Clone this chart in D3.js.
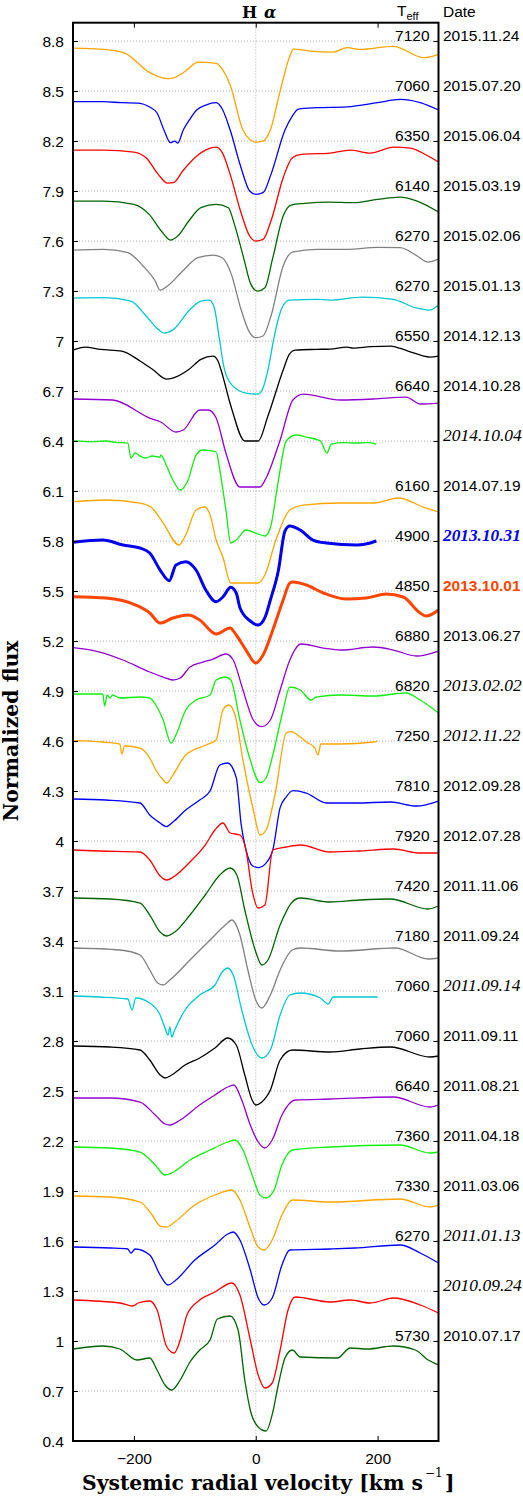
<!DOCTYPE html>
<html><head><meta charset="utf-8">
<script src="https://cdn.jsdelivr.net/npm/d3@7"></script>
<style>
body{margin:0;background:#fff;}
svg{display:block;}
</style></head>
<body>
<svg id="chart" width="523" height="1496"></svg>
<script>
// ---------- data ----------
const dates = ["2015.11.24","2015.07.20","2015.06.04","2015.03.19","2015.02.06","2015.01.13","2014.12.13","2014.10.28","2014.10.04","2014.07.19","2013.10.31","2013.10.01","2013.06.27","2013.02.02","2012.11.22","2012.09.28","2012.07.28","2011.11.06","2011.09.24","2011.09.14","2011.09.11","2011.08.21","2011.04.18","2011.03.06","2011.01.13","2010.09.24","2010.07.17"];
const teffs = [7120,7060,6350,6140,6270,6270,6550,6640,null,6160,4900,4850,6880,6820,7250,7810,7920,7420,7180,7060,7060,6640,7360,7330,6270,null,5730];
const labelLevels = [8.8,8.5,8.2,7.9,7.6,7.3,7.0,6.7,6.4,6.1,5.8,5.5,5.2,4.9,4.6,4.3,4.0,3.7,3.4,3.1,2.8,2.5,2.2,1.9,1.6,1.3,1.0];
const yTickValues = [0.4,0.7,1.0,1.3,1.6,1.9,2.2,2.5,2.8,3.1,3.4,3.7,4.0,4.3,4.6,4.9,5.2,5.5,5.8,6.1,6.4,6.7,7.0,7.3,7.6,7.9,8.2,8.5,8.8];
const xTickValues = [-200,0,200];

// profiles: [velocity km/s, normalized flux + offset]
const p20151124 = [[-300,8.758],[-248,8.75],[-215,8.728],[-174,8.61],[-145,8.574],[-138,8.576],[-115,8.62],[-95,8.674],[-65,8.666],[-54,8.626],[-42,8.536],[-21,8.266],[-10,8.21],[0,8.194],[12,8.20],[24,8.266],[40,8.5],[55,8.70],[62,8.752],[90,8.74],[127,8.734],[150,8.76],[171,8.75],[226,8.768],[276,8.70],[300,8.72]];
const p20150720 = [[-300,8.436],[-250,8.436],[-220,8.43],[-195,8.428],[-174,8.404],[-162,8.368],[-150,8.26],[-140,8.19],[-133,8.20],[-128,8.188],[-119,8.266],[-108,8.332],[-97,8.386],[-82,8.416],[-65,8.43],[-55,8.392],[-42,8.266],[-25,8.05],[-10,7.90],[0,7.88],[12,7.89],[25,8.0],[48,8.266],[60,8.35],[70,8.392],[100,8.40],[150,8.405],[200,8.43],[237,8.45],[270,8.43],[300,8.386]];
const p20150604 = [[-300,8.146],[-250,8.146],[-200,8.134],[-180,8.10],[-160,8.0],[-145,7.948],[-135,7.95],[-120,8.02],[-100,8.10],[-80,8.15],[-65,8.164],[-55,8.13],[-42,8.0],[-25,7.78],[-10,7.63],[0,7.60],[12,7.61],[25,7.72],[45,7.98],[60,8.10],[75,8.12],[122,8.128],[155,8.146],[188,8.128],[226,8.164],[254,8.158],[280,8.116],[300,8.074]];
const p20150319 = [[-300,7.84],[-250,7.84],[-200,7.82],[-175,7.76],[-155,7.66],[-140,7.606],[-128,7.63],[-110,7.72],[-90,7.80],[-65,7.82],[-45,7.80],[-35,7.70],[-20,7.50],[-8,7.34],[3,7.30],[15,7.32],[28,7.50],[45,7.75],[58,7.816],[80,7.826],[122,7.834],[160,7.83],[200,7.85],[237,7.864],[265,7.84],[300,7.774]];
const p20150206 = [[-300,7.546],[-250,7.55],[-210,7.53],[-185,7.45],[-165,7.36],[-157,7.306],[-145,7.33],[-120,7.42],[-95,7.50],[-70,7.516],[-55,7.50],[-40,7.40],[-25,7.20],[-10,7.05],[0,7.02],[12,7.03],[25,7.15],[45,7.45],[60,7.534],[100,7.55],[150,7.55],[200,7.562],[237,7.56],[265,7.51],[282,7.474],[300,7.492]];
const p20150113 = [[-300,7.258],[-250,7.26],[-205,7.24],[-180,7.15],[-160,7.07],[-150,7.048],[-135,7.07],[-110,7.18],[-90,7.24],[-76,7.246],[-68,7.20],[-60,7.02],[-52,6.84],[-40,6.74],[-16,6.688],[4,6.682],[12,6.72],[20,6.826],[30,7.02],[42,7.19],[55,7.246],[100,7.25],[122,7.246],[175,7.264],[226,7.25],[262,7.20],[286,7.186],[300,7.216]];
const p20141213 = [[-300,6.946],[-280,6.964],[-255,6.95],[-220,6.94],[-190,6.88],[-168,6.826],[-147,6.772],[-136,6.778],[-111,6.826],[-90,6.89],[-70,6.91],[-62,6.88],[-57,6.826],[-40,6.60],[-18,6.40],[4,6.40],[20,6.55],[45,6.826],[55,6.92],[65,6.946],[100,6.95],[122,6.952],[150,6.964],[160,6.958],[188,6.966],[221,6.97],[250,6.94],[286,6.904],[300,6.91]];
const p20141028 = [[-300,6.652],[-235,6.646],[-174,6.538],[-156,6.514],[-131,6.454],[-119,6.466],[-92,6.586],[-78,6.586],[-65,6.538],[-49,6.328],[-26,6.124],[7,6.124],[17,6.178],[40,6.406],[61,6.646],[78,6.682],[139,6.646],[193,6.652],[247,6.664],[270,6.622],[300,6.628]];
const p20141004 = [[-300,6.402],[-270,6.395],[-246,6.40],[-230,6.392],[-210,6.388],[-205,6.298],[-198,6.328],[-190,6.31],[-180,6.298],[-170,6.31],[-157,6.304],[-156,6.316],[-147,6.256],[-136,6.166],[-124,6.106],[-111,6.166],[-98,6.316],[-87,6.346],[-75,6.342],[-65,6.334],[-59,6.226],[-49,5.986],[-41,5.788],[-32,5.806],[-16,5.866],[0,5.848],[15,5.83],[24,5.88],[37,6.16],[50,6.40],[66,6.436],[83,6.424],[106,6.40],[117,6.328],[124,6.382],[145,6.39],[165,6.388],[185,6.39],[198,6.382]];
const p20140719 = [[-300,6.036],[-246,6.046],[-190,6.028],[-172,6.004],[-152,5.908],[-126,5.776],[-115,5.836],[-98,5.986],[-83,6.004],[-75,5.956],[-65,5.806],[-54,5.704],[-41,5.548],[4,5.548],[15,5.596],[33,5.806],[56,5.986],[78,6.016],[139,6.028],[193,6.028],[234,6.058],[275,6.004],[300,5.974]];
const p20131031 = [[-300,5.792],[-251,5.806],[-218,5.776],[-190,5.758],[-174,5.728],[-157,5.626],[-142,5.562],[-131,5.656],[-115,5.676],[-98,5.626],[-82,5.506],[-65,5.436],[-54,5.464],[-41,5.522],[-32,5.488],[-26,5.40],[-9,5.32],[4,5.296],[15,5.34],[24,5.446],[37,5.62],[48,5.86],[56,5.89],[73,5.866],[94,5.806],[116,5.788],[165,5.776],[181,5.782],[198,5.80]];
const p20131001 = [[-300,5.466],[-246,5.458],[-197,5.416],[-174,5.368],[-157,5.308],[-136,5.338],[-111,5.356],[-92,5.326],[-65,5.242],[-42,5.278],[-32,5.236],[-16,5.146],[0,5.068],[12,5.116],[28,5.266],[45,5.446],[56,5.548],[61,5.554],[83,5.536],[111,5.488],[148,5.452],[181,5.458],[214,5.482],[242,5.464],[270,5.368],[280,5.35],[300,5.386]];
const p20130627 = [[-300,5.16],[-256,5.134],[-218,5.086],[-174,5.014],[-152,4.984],[-136,4.966],[-124,4.978],[-108,5.044],[-87,5.074],[-70,5.092],[-49,5.122],[-37,5.086],[-21,4.906],[-4,4.726],[10,4.686],[24,4.726],[40,4.906],[56,5.086],[74,5.182],[111,5.158],[139,5.146],[193,5.164],[226,5.146],[264,5.11],[300,5.14]];
const p20130202 = [[-300,4.882],[-251,4.882],[-248,4.81],[-244,4.876],[-239,4.858],[-235,4.876],[-223,4.858],[-190,4.864],[-174,4.858],[-164,4.816],[-152,4.726],[-139,4.588],[-131,4.636],[-115,4.786],[-98,4.846],[-75,4.876],[-65,4.966],[-50,4.984],[-41,4.966],[-26,4.726],[-9,4.486],[7,4.35],[17,4.378],[28,4.516],[45,4.786],[56,4.924],[73,4.906],[91,4.846],[99,4.864],[139,4.876],[193,4.87],[247,4.888],[270,4.846],[300,4.768]];
const p20121122 = [[-300,4.602],[-251,4.594],[-223,4.582],[-220,4.522],[-215,4.57],[-190,4.558],[-174,4.498],[-164,4.426],[-152,4.366],[-146,4.348],[-136,4.396],[-115,4.516],[-82,4.576],[-65,4.606],[-54,4.786],[-44,4.816],[-34,4.756],[-21,4.486],[-4,4.186],[7,4.036],[17,4.066],[33,4.306],[50,4.648],[58,4.656],[73,4.624],[83,4.594],[97,4.558],[102,4.516],[107,4.582],[139,4.582],[193,4.594],[200,4.60]];
const p20120928 = [[-300,4.252],[-246,4.246],[-190,4.228],[-174,4.156],[-157,4.108],[-147,4.086],[-136,4.114],[-115,4.186],[-92,4.246],[-75,4.30],[-59,4.456],[-46,4.468],[-32,4.38],[-24,4.10],[-16,3.946],[-5,3.85],[5,3.84],[15,3.86],[28,3.946],[40,4.20],[50,4.264],[61,4.302],[83,4.288],[116,4.228],[165,4.228],[221,4.234],[264,4.21],[300,4.24]];
const p20120728 = [[-300,3.946],[-256,3.94],[-190,3.934],[-174,3.886],[-157,3.79],[-146,3.766],[-133,3.79],[-108,3.874],[-83,3.976],[-67,4.066],[-54,4.108],[-42,4.048],[-26,4.036],[-16,3.946],[-6,3.706],[4,3.598],[15,3.616],[28,3.946],[50,3.964],[74,3.976],[122,3.934],[171,3.94],[226,3.952],[270,3.928],[300,3.928]];
const p20111106 = [[-300,3.658],[-239,3.652],[-190,3.628],[-174,3.556],[-157,3.454],[-146,3.43],[-133,3.454],[-108,3.556],[-83,3.676],[-59,3.796],[-42,3.838],[-31,3.796],[-18,3.586],[-1,3.346],[10,3.256],[20,3.286],[40,3.496],[60,3.634],[73,3.658],[122,3.634],[171,3.646],[221,3.652],[283,3.592],[300,3.61]];
const p20110924 = [[-300,3.358],[-223,3.346],[-190,3.316],[-174,3.226],[-161,3.148],[-152,3.136],[-141,3.166],[-108,3.286],[-75,3.406],[-50,3.496],[-39,3.526],[-26,3.436],[-13,3.226],[0,3.046],[10,2.998],[24,3.076],[40,3.226],[60,3.346],[73,3.358],[139,3.34],[229,3.358],[283,3.292],[300,3.298]];
const p20110914 = [[-300,3.07],[-256,3.064],[-210,3.052],[-203,2.986],[-197,3.058],[-174,3.028],[-157,2.956],[-149,2.878],[-144,2.836],[-141,2.884],[-138,2.824],[-133,2.866],[-116,2.986],[-92,3.076],[-67,3.136],[-55,3.214],[-46,3.238],[-37,3.196],[-23,2.986],[-6,2.776],[10,2.698],[24,2.746],[40,2.956],[56,3.076],[73,3.088],[106,3.058],[119,3.022],[127,3.064],[163,3.064],[200,3.064]];
const p20110911 = [[-300,2.77],[-239,2.764],[-190,2.746],[-174,2.686],[-157,2.596],[-149,2.578],[-138,2.596],[-116,2.656],[-92,2.698],[-67,2.758],[-46,2.818],[-32,2.776],[-18,2.596],[-6,2.446],[0,2.416],[10,2.434],[24,2.506],[40,2.686],[60,2.746],[122,2.734],[171,2.752],[221,2.764],[286,2.704],[300,2.71]];
const p20110821 = [[-300,2.458],[-239,2.458],[-190,2.434],[-165,2.356],[-149,2.302],[-141,2.296],[-124,2.326],[-92,2.416],[-67,2.476],[-46,2.524],[-36,2.536],[-23,2.446],[-9,2.296],[4,2.194],[15,2.158],[27,2.206],[43,2.356],[65,2.446],[122,2.452],[226,2.464],[286,2.404],[300,2.416]];
const p20110418 = [[-300,2.164],[-239,2.158],[-190,2.134],[-165,2.056],[-149,1.996],[-138,2.008],[-108,2.086],[-75,2.146],[-50,2.188],[-34,2.206],[-21,2.146],[-6,1.996],[7,1.876],[17,1.858],[30,1.906],[43,2.056],[60,2.146],[122,2.164],[237,2.176],[286,2.128],[300,2.134]];
const p20110306 = [[-300,1.87],[-239,1.864],[-190,1.834],[-170,1.756],[-157,1.69],[-146,1.684],[-133,1.714],[-100,1.816],[-67,1.876],[-39,1.906],[-26,1.846],[-9,1.678],[4,1.564],[14,1.546],[27,1.606],[43,1.756],[60,1.846],[122,1.834],[237,1.852],[286,1.804],[300,1.816]];
const p20110113 = [[-300,1.564],[-239,1.558],[-210,1.552],[-205,1.528],[-198,1.552],[-174,1.516],[-157,1.396],[-144,1.336],[-131,1.366],[-100,1.486],[-67,1.576],[-46,1.642],[-37,1.654],[-26,1.606],[-9,1.426],[4,1.258],[14,1.216],[27,1.258],[43,1.456],[56,1.546],[122,1.552],[163,1.558],[237,1.576],[270,1.528],[300,1.468]];
const p20100924 = [[-300,1.246],[-223,1.228],[-202,1.21],[-193,1.228],[-174,1.24],[-162,1.186],[-146,0.964],[-134,0.928],[-124,1.006],[-113,1.156],[-92,1.246],[-67,1.294],[-39,1.348],[-26,1.276],[-9,1.006],[4,0.796],[15,0.718],[27,0.748],[40,0.946],[53,1.186],[65,1.264],[122,1.234],[155,1.246],[188,1.228],[226,1.258],[270,1.216],[300,1.168]];
const p20100717 = [[-300,0.952],[-251,0.97],[-223,0.952],[-195,0.886],[-174,0.898],[-162,0.826],[-149,0.736],[-138,0.706],[-124,0.766],[-108,0.874],[-92,0.946],[-75,1.006],[-63,1.132],[-42,1.15],[-29,1.066],[-18,0.766],[-9,0.586],[4,0.484],[17,0.46],[28,0.574],[37,0.736],[48,0.898],[60,0.946],[73,0.904],[134,0.898],[155,0.958],[183,0.952],[226,0.97],[262,0.946],[283,0.886],[300,0.856]];

const profiles = [p20151124,p20150720,p20150604,p20150319,p20150206,p20150113,p20141213,p20141028,p20141004,p20140719,p20131031,p20131001,p20130627,p20130202,p20121122,p20120928,p20120728,p20111106,p20110924,p20110914,p20110911,p20110821,p20110418,p20110306,p20110113,p20100924,p20100717];

// ---------- styles ----------
const ORANGE="#ffa500", BLUE="#0000ff", RED="#ff0000", DKGREEN="#006400", GRAY="#808080", CYAN="#00c8d2", BLACK="#000000", PURPLE="#9400d3", GREEN="#11ee11", ORED="#ff4500";
const lineColors = [ORANGE,BLUE,RED,DKGREEN,GRAY,CYAN,BLACK,PURPLE,GREEN,ORANGE,"#0000ee",ORED,PURPLE,GREEN,ORANGE,BLUE,RED,DKGREEN,GRAY,CYAN,BLACK,PURPLE,GREEN,ORANGE,BLUE,RED,DKGREEN];
const thick = new Set([10,11]);
const dateStyle = ["n","n","n","n","n","n","n","n","i","n","bib","br","n","i","i","n","n","n","n","i","n","n","n","n","i","i","n"];

// ---------- layout ----------
const svg = d3.select("#chart");
const L=73, R=438.5, T=22.7, B=1441;
const x = d3.scaleLinear().domain([-300,300]).range([L,R]);
const y = d3.scaleLinear().domain([0.4,8.91]).range([B,T]);
const SANS = "'Liberation Sans', Arial, Helvetica, sans-serif";
const SERIF = "'Liberation Serif', 'Times New Roman', serif";
const DSERIF = "'DejaVu Serif', serif";

// grid
const grid = svg.append("g");
grid.selectAll("line.h").data(yTickValues).join("line")
  .attr("x1",L).attr("x2",R).attr("y1",d=>y(d)).attr("y2",d=>y(d))
  .attr("stroke","#b0b0b0").attr("stroke-width",1).attr("stroke-dasharray","1,2");
grid.append("line").attr("x1",x(0)).attr("x2",x(0)).attr("y1",T).attr("y2",B)
  .attr("stroke","#b0b0b0").attr("stroke-width",1).attr("stroke-dasharray","1,2");

// curves
const lineGen = d3.line().x(d=>x(d[0])).y(d=>y(d[1])).curve(d3.curveMonotoneX);
const curves = svg.append("g");
profiles.forEach((p,i)=>{
  curves.append("path").attr("d",lineGen(p)).attr("fill","none")
   .attr("stroke",lineColors[i]).attr("stroke-width",thick.has(i)?3:1.3)
   .attr("stroke-linejoin","round");
});

// axes
const fmt = d3.format("~g");
const axesG = svg.append("g").attr("font-family",SANS);
const axLeft = axesG.append("g").attr("transform",`translate(${L},0)`)
  .call(d3.axisLeft(y).tickValues(yTickValues).tickFormat(fmt).tickSizeInner(-5).tickSizeOuter(0).tickPadding(9));
const axRight = axesG.append("g").attr("transform",`translate(${R},0)`)
  .call(d3.axisRight(y).tickValues(yTickValues).tickFormat("").tickSizeInner(-5).tickSizeOuter(0));
const axBottom = axesG.append("g").attr("transform",`translate(0,${B})`)
  .call(d3.axisBottom(x).tickValues(xTickValues).tickFormat(fmt).tickSizeInner(-5).tickSizeOuter(0).tickPadding(11));
const axTop = axesG.append("g").attr("transform",`translate(0,${T})`)
  .call(d3.axisTop(x).tickValues(xTickValues).tickFormat("").tickSizeInner(-5).tickSizeOuter(0));
[axLeft,axRight,axBottom,axTop].forEach(a=>{
  a.select(".domain").remove();
  a.selectAll(".tick line").attr("stroke","#000").attr("stroke-width",1);
  a.selectAll(".tick text").attr("font-size",15.5).attr("fill","#000").attr("font-family",SANS);
});
axLeft.selectAll(".tick text").attr("dy","0.36em");
axBottom.selectAll(".tick text").attr("dy","0.75em");

// frame
svg.append("rect").attr("x",L).attr("y",T).attr("width",R-L).attr("height",B-T)
  .attr("fill","none").attr("stroke","#000").attr("stroke-width",2);

// right labels
const lab = svg.append("g");
labelLevels.forEach((lv,i)=>{
  const yy = y(lv)-0.5;
  if (teffs[i]!==null) {
    lab.append("text").attr("x",429.5).attr("y",yy).attr("text-anchor","end")
      .attr("font-family",SANS).attr("font-size",15.5).attr("fill","#000").text(teffs[i]);
  }
  const t = lab.append("text").attr("x",443).attr("y",yy).text(dates[i]);
  const s = dateStyle[i];
  if (s==="n") t.attr("font-family",SANS).attr("font-size",15.5).attr("fill","#000");
  else if (s==="i") t.attr("font-family",SERIF).attr("font-style","italic").attr("font-size",17.5).attr("fill","#000");
  else if (s==="bib") t.attr("font-family",SERIF).attr("font-style","italic").attr("font-weight","bold").attr("font-size",17.3).attr("fill","#0000ee");
  else if (s==="br") t.attr("font-family",SANS).attr("font-weight","bold").attr("font-size",15.5).attr("fill",ORED);
});

// headers
svg.append("text").attr("x",242).attr("y",17.5).attr("font-family",DSERIF).attr("font-weight","bold").attr("font-size",16).text("H");
svg.append("text").attr("x",264).attr("y",17.5).attr("font-family",DSERIF).attr("font-style","italic").attr("font-weight","bold").attr("font-size",16).text("α");
const te = svg.append("text").attr("x",397).attr("y",16).attr("font-family",SANS).attr("font-size",15.5).text("T");
te.append("tspan").attr("dy",4).attr("font-size",11).text("eff");
svg.append("text").attr("x",443).attr("y",16.5).attr("font-family",SANS).attr("font-size",15.5).text("Date");

// axis titles
svg.append("text").attr("x",82).attr("y",1490).attr("font-family",DSERIF).attr("font-weight","bold")
  .attr("font-size",20).attr("textLength",341).attr("lengthAdjust","spacingAndGlyphs").text("Systemic radial velocity [km s");
svg.append("text").attr("x",425).attr("y",1477).attr("font-family",DSERIF).attr("font-size",12).text("−1");
svg.append("text").attr("x",445).attr("y",1490).attr("font-family",DSERIF).attr("font-weight","bold").attr("font-size",20).text("]");
svg.append("text").attr("transform","translate(18,731) rotate(-90)").attr("text-anchor","middle")
  .attr("font-family",DSERIF).attr("font-weight","bold").attr("font-size",20)
  .attr("textLength",181).attr("lengthAdjust","spacingAndGlyphs").text("Normalized flux");
</script>
</body></html>
